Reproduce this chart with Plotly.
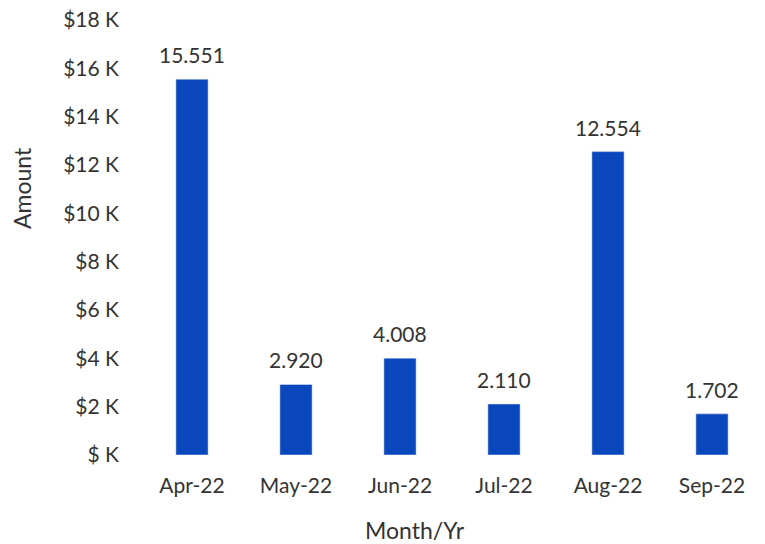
import plotly.graph_objects as go

months = ["Apr-22", "May-22", "Jun-22", "Jul-22", "Aug-22", "Sep-22"]
amounts = [15551, 2920, 4008, 2110, 12554, 1702]
labels = ["15.551", "2.920", "4.008", "2.110", "12.554", "1.702"]
y_tickvals = [0, 2000, 4000, 6000, 8000, 10000, 12000, 14000, 16000, 18000]
y_ticktext = ["$ K", "$2 K", "$4 K", "$6 K", "$8 K", "$10 K", "$12 K", "$14 K", "$16 K", "$18 K"]

FONT = "Lato, Open Sans, sans-serif"
TXT = "#333333"

fig = go.Figure(go.Bar(
    x=months, y=amounts,
    marker=dict(color="#0A47BC"), cliponaxis=False,
))

W, H = 765, 544
L, R, T, B = 140, 1, 20, 89
pw = W - L - R
ph = H - T - B

value_labels = [
    dict(text=t, x=m, y=v, xref="x", yref="y", showarrow=False,
         yanchor="bottom", xanchor="center", yshift=10,
         font=dict(size=21, color=TXT, family=FONT))
    for m, v, t in zip(months, amounts, labels)
]

fig.update_layout(
    width=W, height=H,
    margin=dict(l=L, r=R, t=T, b=B, autoexpand=False),
    paper_bgcolor="white", plot_bgcolor="white",
    bargap=0.69, showlegend=False,
    font=dict(family=FONT, size=21, color=TXT),
    xaxis=dict(showline=False, showgrid=False, ticks="", automargin=False,
               ticklabelstandoff=16, tickfont=dict(size=21, color=TXT)),
    yaxis=dict(range=[0, 18000], tickvals=y_tickvals, ticktext=y_ticktext,
               showgrid=False, zeroline=False, showline=False, ticks="", automargin=False,
               ticklabelstandoff=20, tickfont=dict(size=21, color=TXT)),
    annotations=value_labels + [
        dict(text="Amount", xref="paper", yref="paper",
             x=(22 - L) / pw, y=(H - B - 188) / ph, showarrow=False,
             textangle=-90, font=dict(size=23, color=TXT, family=FONT),
             xanchor="center", yanchor="middle"),
        dict(text="Month/Yr", xref="paper", yref="paper",
             x=(415 - L) / pw, y=(H - B - 530) / ph, showarrow=False,
             font=dict(size=23, color=TXT, family=FONT),
             xanchor="center", yanchor="middle"),
    ],
)

fig.write_html("out.html", config={"displayModeBar": False},
               post_script="document.body.style.margin='0px';")
